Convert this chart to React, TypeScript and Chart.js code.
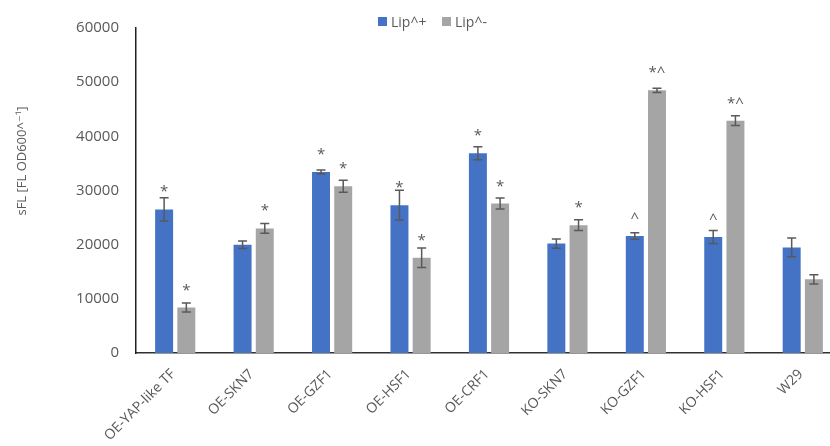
import React, { useEffect, useRef } from "react";
import { Chart, registerables } from "chart.js";
Chart.register(...registerables);

const categories = ["OE-YAP-like TF", "OE-SKN7", "OE-GZF1", "OE-HSF1", "OE-CRF1", "KO-SKN7", "KO-GZF1", "KO-HSF1", "W29"];
const seriesNames = ["Lip^+", "Lip^-"];
const lipPlus = [26500, 20000, 33400, 27300, 36900, 20200, 21600, 21400, 19500];
const lipPlusErr = [2150, 700, 370, 2750, 1200, 850, 580, 1200, 1750];
const lipMinus = [8400, 23000, 30800, 17600, 27600, 23600, 48500, 42900, 13600];
const lipMinusErr = [850, 900, 1100, 1800, 1000, 1000, 400, 900, 850];
const lipPlusMarks = ["*", "", "*", "*", "*", "", "^", "^", ""];
const lipMinusMarks = ["*", "*", "*", "*", "*", "*", "*^", "*^", ""];
const yMin = 0;
const yMax = 60000;
const yStep = 10000;
const yTitle = "sFL [FL OD600^\u207B\u00B9]";

const BLUE = "#4472C4";
const GRAY = "#A5A5A5";
const TEXT = "#595959";
const FONT = "'Open Sans', 'DejaVu Sans', sans-serif";

const overlay = {
  id: "overlay",
  afterDatasetsDraw(chart: any) {
    const ctx = chart.ctx;
    const y = chart.scales.y;
    const vals = [lipPlus, lipMinus];
    const errs = [lipPlusErr, lipMinusErr];
    const marks = [lipPlusMarks, lipMinusMarks];
    ctx.save();
    chart.data.datasets.forEach((_ds: any, di: number) => {
      const meta = chart.getDatasetMeta(di);
      meta.data.forEach((bar: any, i: number) => {
        const v = vals[di][i];
        const e = errs[di][i];
        const x = bar.x;
        const yHi = y.getPixelForValue(v + e);
        const yLo = y.getPixelForValue(v - e);
        ctx.strokeStyle = "#595959";
        ctx.lineWidth = 1.5;
        ctx.beginPath();
        ctx.moveTo(x, yHi);
        ctx.lineTo(x, yLo);
        ctx.moveTo(x - 4.5, yHi);
        ctx.lineTo(x + 4.5, yHi);
        ctx.moveTo(x - 4.5, yLo);
        ctx.lineTo(x + 4.5, yLo);
        ctx.stroke();
        const m = marks[di][i];
        if (m) {
          ctx.fillStyle = TEXT;
          ctx.font = `15px ${FONT}`;
          ctx.textAlign = "center";
          ctx.textBaseline = "alphabetic";
          ctx.fillText(m, x, bar.y - 13);
        }
      });
    });
    ctx.restore();
  },
  afterDraw(chart: any) {
    const ctx = chart.ctx;
    ctx.save();
    const colors = [BLUE, GRAY];
    const boxX = [378, 442];
    ctx.font = `14px ${FONT}`;
    ctx.textAlign = "left";
    ctx.textBaseline = "alphabetic";
    seriesNames.forEach((name, i) => {
      ctx.fillStyle = colors[i];
      ctx.fillRect(boxX[i], 17, 9, 9);
      ctx.fillStyle = TEXT;
      ctx.fillText(name, boxX[i] + 13, 27);
    });
    ctx.translate(22, 161);
    ctx.rotate(-Math.PI / 2);
    ctx.textAlign = "center";
    ctx.textBaseline = "middle";
    ctx.font = `13px ${FONT}`;
    ctx.fillStyle = TEXT;
    ctx.fillText(yTitle, 0, 0);
    ctx.restore();
  },
};

export default function App() {
  const ref = useRef<HTMLCanvasElement>(null);
  useEffect(() => {
    document.body.style.margin = "0";
    const chart = new Chart(ref.current as HTMLCanvasElement, {
      type: "bar",
      data: {
        labels: categories,
        datasets: [
          { label: seriesNames[0], data: lipPlus, backgroundColor: BLUE, borderWidth: 0 },
          { label: seriesNames[1], data: lipMinus, backgroundColor: GRAY, borderWidth: 0 },
        ],
      },
      options: {
        animation: false,
        responsive: false,
        devicePixelRatio: 1,
        layout: { padding: { top: 28, left: 0, right: 0, bottom: 0 } },
        datasets: { bar: { categoryPercentage: 0.566, barPercentage: 0.81 } },
        plugins: { legend: { display: false }, tooltip: { enabled: false } },
        scales: {
          x: {
            grid: { display: false },
            border: { display: true, color: "#303030", width: 1.5 },
            ticks: {
              color: TEXT,
              font: { family: FONT, size: 14 },
              maxRotation: 45,
              minRotation: 45,
              padding: 5,
              labelOffset: -2,
              autoSkip: false,
            },
            afterFit: (s: any) => {
              s.height = 93;
            },
          },
          y: {
            min: yMin,
            max: yMax,
            grid: { display: false },
            border: { display: true, color: "#202020", width: 1.5 },
            ticks: {
              stepSize: yStep,
              color: TEXT,
              font: { family: FONT, size: 15 },
              padding: 9,
              callback: (v: any) => String(v),
            },
            afterFit: (s: any) => {
              s.width = 136;
            },
          },
        },
      },
      plugins: [overlay],
    });
    return () => chart.destroy();
  }, []);
  return (
    <div style={{ width: 830, height: 446, overflow: "hidden", position: "relative", background: "#fff" }}>
      <canvas ref={ref} width={842} height={446} style={{ display: "block" }} />
    </div>
  );
}
